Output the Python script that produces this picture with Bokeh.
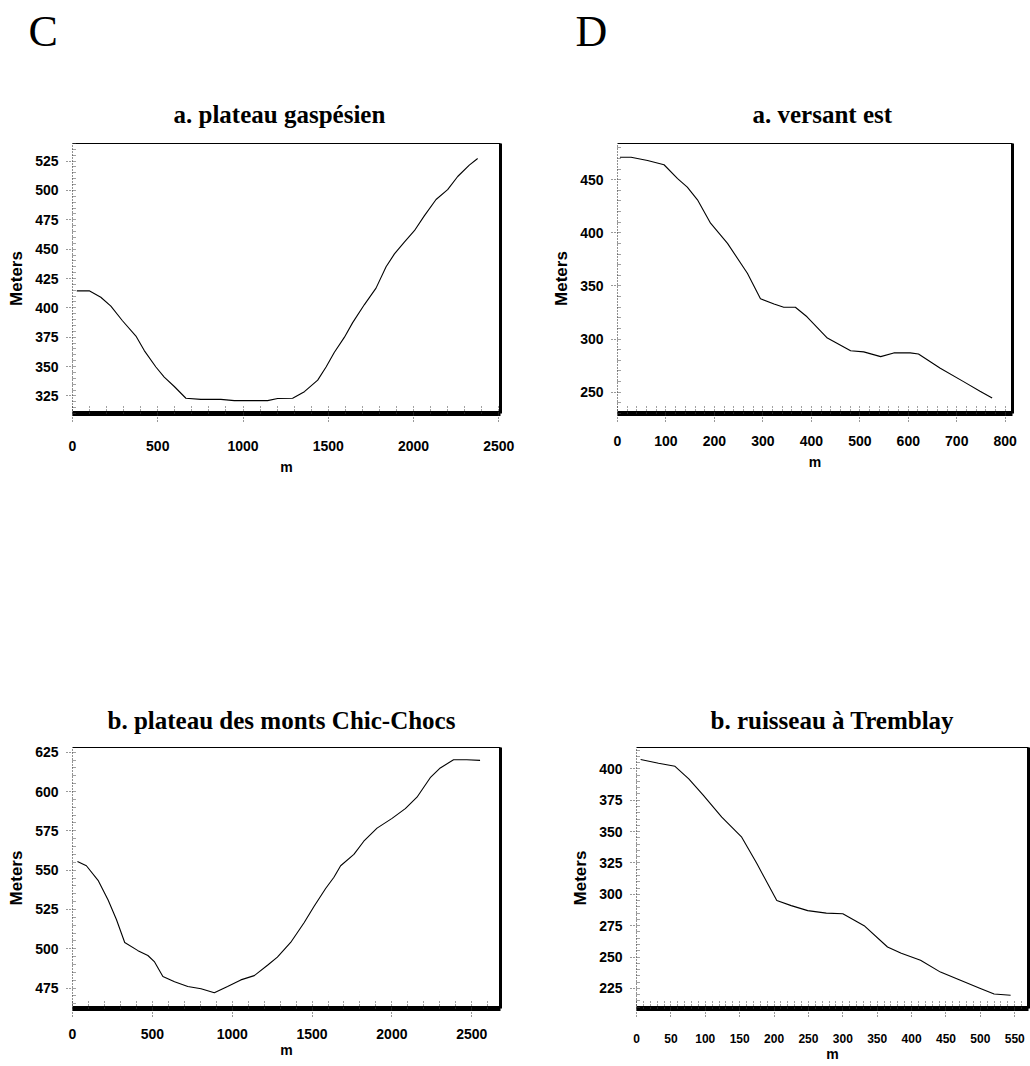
from bokeh.plotting import figure
from bokeh.models import Range1d, LinearAxis, FixedTicker, Title, SingleIntervalTicker
from bokeh.layouts import column, row
from bokeh.embed import file_html
from bokeh.resources import INLINE

# ---------------- data ----------------
ca_x = [25, 98, 166, 225, 293, 372, 421, 489, 538, 597, 665, 753, 870, 949, 1144, 1203,
        1291, 1360, 1438, 1487, 1535, 1594, 1643, 1712, 1780, 1839, 1888, 1946, 2005,
        2063, 2132, 2200, 2259, 2327, 2376]
ca_y = [414.5, 414.5, 409, 401.4, 389, 376, 363.6, 349.6, 341, 333, 323, 322, 322, 321,
        321, 322.8, 323, 328.6, 338.4, 349.6, 362, 374.8, 387.4, 402.8, 416.8, 435, 446,
        456, 465.7, 478.3, 492.3, 500.7, 511.9, 521.6, 527.2]

da_x = [5, 28, 62, 96, 124, 144, 165, 192, 227, 268, 295, 323, 343, 367, 391, 433, 481,
        508, 543, 570, 604, 621, 666, 714, 748, 773]
da_y = [471, 471, 468, 464, 451, 443, 431, 409, 390, 362, 338, 333, 330, 330, 321, 301,
        289, 288, 283.5, 287, 287, 286, 272.5, 260, 251, 244.5]

cb_x = [31, 87, 160, 223, 275, 327, 410, 472, 514, 566, 639, 722, 805, 888, 971, 1054,
        1138, 1221, 1283, 1366, 1450, 1512, 1585, 1637, 1679, 1762, 1824, 1907, 2001,
        2084, 2157, 2240, 2303, 2386, 2469, 2552]
cb_y = [555.5, 552.8, 543.5, 531, 518.6, 504, 498.8, 495.7, 491.6, 482.3, 479, 476,
        474.6, 472, 476, 480.2, 482.9, 489.5, 494.7, 504, 516.5, 526.9, 538.3, 545.5,
        552.8, 560, 568.4, 576.7, 582.9, 589.1, 596.4, 608.8, 615, 620.2, 620.2, 619.8]

db_x = [6, 32, 56, 76, 97, 124, 153, 175, 204, 225, 249, 276, 300, 331, 365, 385, 413,
        442, 471, 500, 520, 544]
db_y = [407.5, 404.5, 402, 392, 379, 361.5, 345.5, 324.5, 295, 291, 287, 285, 284.5,
        275, 258, 253, 247.5, 238, 231.5, 225, 220.5, 219.5]

titles = ["a. plateau gaspésien", "a. versant est",
          "b. plateau des monts Chic-Chocs", "b. ruisseau à Tremblay"]
letters = ["C", "D"]
x_label = "m"
y_label = "Meters"

SANS = "Liberation Sans"
SERIF = "Liberation Serif"


def panel(xs, ys, xr, yr, xint, yint, w, h, bl, br, bt, bb, title, t_off,
          t_standoff, letter=None, l_off=0, tick_size="14px",
          x_standoff=12, xl_standoff=4):
    p = figure(width=w, height=h, x_range=Range1d(*xr), y_range=Range1d(*yr),
               output_backend="svg", toolbar_location=None, title=None,
               min_border_left=bl, min_border_right=br, min_border_top=bt,
               min_border_bottom=bb, outline_line_color=None,
               background_fill_color="white", border_fill_color="white")
    p.grid.visible = False

    xa = p.xaxis[0]
    xa.ticker = SingleIntervalTicker(interval=xint, num_minor_ticks=5)
    xa.axis_line_width = 5
    xa.axis_line_color = "black"
    xa.major_tick_in = 0
    xa.major_tick_out = 8
    xa.major_tick_line_dash = "1 2"
    xa.major_tick_line_color = "#333333"
    xa.minor_tick_in = 9
    xa.minor_tick_out = 0
    xa.minor_tick_line_dash = "1 2"
    xa.minor_tick_line_color = "#444444"
    xa.major_label_standoff = x_standoff
    xa.major_label_text_font = SANS
    xa.major_label_text_font_size = tick_size
    xa.major_label_text_font_style = "bold"
    xa.major_label_text_color = "black"
    xa.major_label_text_line_height = 1.0
    xa.axis_label = x_label
    xa.axis_label_standoff = xl_standoff
    xa.axis_label_text_font = SANS
    xa.axis_label_text_font_size = "14px"
    xa.axis_label_text_font_style = "bold"
    xa.axis_label_text_color = "black"
    xa.axis_label_text_line_height = 1.0

    ya = p.yaxis[0]
    ya.ticker = SingleIntervalTicker(interval=yint, num_minor_ticks=5)
    ya.axis_line_dash = "1 2"
    ya.axis_line_color = "#222222"
    ya.major_tick_in = 0
    ya.major_tick_out = 6
    ya.major_tick_line_dash = "1 2"
    ya.major_tick_line_color = "#333333"
    ya.minor_tick_in = 3
    ya.minor_tick_out = 0
    ya.minor_tick_line_dash = "1 1"
    ya.minor_tick_line_color = "#444444"
    ya.major_label_standoff = 8
    ya.major_label_text_font = SANS
    ya.major_label_text_font_size = "14px"
    ya.major_label_text_font_style = "bold"
    ya.major_label_text_color = "black"
    ya.axis_label = y_label
    ya.axis_label_standoff = 6
    ya.axis_label_text_font = SANS
    ya.axis_label_text_font_size = "17px"
    ya.axis_label_text_font_style = "bold"
    ya.axis_label_text_color = "black"

    right = LinearAxis(ticker=FixedTicker(ticks=[]), axis_line_width=3,
                       axis_line_color="black", major_tick_out=0, major_tick_in=0,
                       minor_tick_out=0, minor_tick_in=0, major_label_standoff=0,
                       major_label_text_font_size="0px")
    p.add_layout(right, "right")
    top = LinearAxis(ticker=FixedTicker(ticks=[]), axis_line_width=1,
                     axis_line_color="black", major_tick_out=0, major_tick_in=0,
                     minor_tick_out=0, minor_tick_in=0, major_label_standoff=0,
                     major_label_text_font_size="0px")
    p.add_layout(top, "above")

    p.add_layout(Title(text=title, align="left", offset=t_off, standoff=t_standoff,
                       text_font=SERIF, text_font_size="25px",
                       text_font_style="bold", text_color="black"), "above")
    if letter is not None:
        # spacer between the panel title and the big panel letter
        p.add_layout(Title(text=" ", align="left", standoff=23,
                           text_font=SERIF, text_font_size="1px"), "above")
        p.add_layout(Title(text=letter, align="left", offset=l_off, standoff=4,
                           text_font=SERIF, text_font_size="44px",
                           text_font_style="normal", text_color="black"), "above")

    p.line(xs, ys, line_color="black", line_width=1.1)
    return p


p_ca = panel(ca_x, ca_y, (0, 2510), (310, 540), 500, 25, 520, 533,
             72, 20, 143, 116, titles[0], 101, 31, letters[0], -44,
             x_standoff=19, xl_standoff=5)
p_da = panel(da_x, da_y, (0, 815), (230, 484), 100, 50, 510, 533,
             97, 18, 143, 120, titles[1], 135, 31, letters[1], -42,
             x_standoff=14, xl_standoff=5)
p_cb = panel(cb_x, cb_y, (0, 2680), (462, 628), 500, 25, 520, 533,
             72, 20, 214, 54, titles[2], 35, 27,
             x_standoff=12, xl_standoff=0)
p_db = panel(db_x, db_y, (0, 570), (209, 417), 50, 25, 510, 533,
             116, 2, 214, 58, titles[3], 74, 28, tick_size="12px",
             x_standoff=17, xl_standoff=0)

layout = column(row(p_ca, p_da, spacing=0), row(p_cb, p_db, spacing=0), spacing=0)

open("out.html", "w").write(file_html(layout, INLINE))
